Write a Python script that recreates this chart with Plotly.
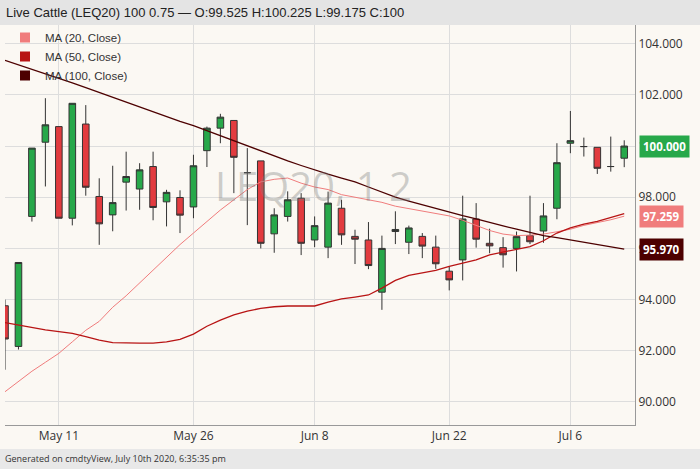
import plotly.graph_objects as go

# trading days May 5 .. Jul 10 2020 (index positions)
days = ["May 5", "May 6", "May 7", "May 8", "May 11", "May 12", "May 13", "May 14", "May 15",
        "May 18", "May 19", "May 20", "May 21", "May 22", "May 26", "May 27", "May 28", "May 29",
        "Jun 1", "Jun 2", "Jun 3", "Jun 4", "Jun 5", "Jun 8", "Jun 9", "Jun 10", "Jun 11", "Jun 12",
        "Jun 15", "Jun 16", "Jun 17", "Jun 18", "Jun 19", "Jun 22", "Jun 23", "Jun 24", "Jun 25",
        "Jun 26", "Jun 29", "Jun 30", "Jul 1", "Jul 2", "Jul 6", "Jul 7", "Jul 8", "Jul 9", "Jul 10"]

opens = [93.76, 92.17, 97.25, 100.15, 100.76, 97.18, 100.86, 98.03, 97.31, 98.59, 98.32, 99.2,
         97.82, 97.99, 97.62, 99.82, 100.7, 101.0, 98.96, 99.42, 96.57, 97.25, 97.96, 96.33, 96.05,
         97.57, 96.47, 96.33, 94.29, 96.66, 96.24, 96.47, 96.05, 95.11, 95.55, 97.15, 96.2, 96.03,
         96.0, 96.5, 96.68, 97.57, 100.11, 99.98, 99.95, 99.2, 99.525]
highs = [94.0, 95.45, 99.92, 101.87, 100.76, 101.67, 101.6, 98.74, 99.23, 99.78, 99.33, 99.78,
         98.29, 98.27, 99.66, 100.76, 101.26, 101.0, 99.92, 99.42, 97.57, 98.23, 98.16, 97.25, 98.22,
         97.9, 96.73, 97.03, 96.5, 97.45, 96.89, 96.6, 96.5, 95.3, 98.06, 97.77, 96.77, 96.44,
         96.66, 98.06, 97.77, 100.11, 101.37, 100.33, 99.95, 100.37, 100.225]
lows = [91.26, 92.05, 97.05, 98.42, 97.18, 96.9, 98.06, 96.14, 96.67, 97.48, 97.51, 97.1,
        96.86, 96.6, 97.18, 99.18, 100.11, 98.16, 96.91, 96.0, 95.83, 97.05, 95.74, 96.05, 95.62,
        96.14, 95.39, 95.19, 93.6, 96.17, 95.78, 95.62, 95.2, 94.36, 94.75, 96.03, 95.81, 95.25,
        95.1, 96.17, 96.22, 97.14, 99.72, 99.59, 98.91, 99.0, 99.175]
closes = [92.46, 95.45, 99.92, 100.83, 97.18, 101.67, 98.39, 96.96, 97.79, 98.81, 99.07, 97.6,
          98.19, 97.3, 99.23, 100.7, 101.13, 99.56, 98.96, 96.2, 97.31, 97.9, 96.2, 96.89, 97.77,
          96.53, 96.36, 95.33, 96.0, 96.74, 96.8, 96.09, 95.4, 94.77, 97.15, 96.36, 96.1, 95.75,
          96.46, 96.26, 97.27, 99.35, 100.21, 99.98, 99.13, 99.2, 100.0]

ma20 = [90.4, 90.8, 91.2, 91.55, 91.9, 92.35, 92.8, 93.15, 93.7, 94.15, 94.65, 95.15, 95.67, 96.15,
        96.6, 97.05, 97.5, 97.9, 98.3, 98.6, 98.7, 98.75, 98.55, 98.4, 98.3, 98.1, 98.0, 97.9, 97.8,
        97.65, 97.55, 97.45, 97.35, 97.27, 97.1, 96.9, 96.7, 96.56, 96.5, 96.52, 96.56, 96.65, 96.75,
        96.9, 97.0, 97.12, 97.259]
ma50 = [93.1, 93.0, 92.9, 92.82, 92.75, 92.68, 92.55, 92.42, 92.32, 92.3, 92.3, 92.3, 92.35, 92.45,
        92.65, 92.96, 93.2, 93.4, 93.55, 93.66, 93.72, 93.75, 93.75, 93.75, 93.9, 94.03, 94.1, 94.18,
        94.45, 94.75, 94.95, 95.05, 95.14, 95.3, 95.42, 95.55, 95.75, 95.85, 95.95, 96.07, 96.3, 96.6,
        96.8, 96.95, 97.06, 97.2, 97.36]
ma100 = [103.35, 103.18, 103.0, 102.83, 102.66, 102.47, 102.28, 102.09, 101.9, 101.72, 101.53,
         101.34, 101.15, 100.96, 100.8, 100.6, 100.4, 100.2, 100.0, 99.8, 99.6, 99.42, 99.24, 99.06,
         98.9, 98.75, 98.6, 98.4, 98.2, 98.0, 97.85, 97.7, 97.55, 97.42, 97.28, 97.15, 97.0, 96.88,
         96.75, 96.62, 96.5, 96.42, 96.33, 96.24, 96.15, 96.07, 95.97]

tick_days = ["May 11", "May 26", "Jun 8", "Jun 22", "Jul 6"]
idx = list(range(len(days)))
tick_idx = [days.index(d) for d in tick_days]

c20, c50, c100 = "#f07c7c", "#b81414", "#4d0000"
ma_list = [("MA (20, Close)", ma20, c20, 1), ("MA (50, Close)", ma50, c50, 1.3),
           ("MA (100, Close)", ma100, c100, 1.3)]

fig = go.Figure()
for name, vals, col, w in ma_list:
    fig.add_trace(go.Scatter(x=idx, y=vals, mode="lines", showlegend=False,
                             line=dict(color=col, width=w)))
# legend swatches (squares)
for name, vals, col, w in ma_list:
    fig.add_trace(go.Scatter(x=[None], y=[None], mode="markers", name=name,
                             marker=dict(symbol="square", size=10, color=col)))
fig.add_trace(go.Candlestick(
    x=idx, open=opens, high=highs, low=lows, close=closes, showlegend=False,
    whiskerwidth=0,
    increasing=dict(fillcolor="#27a84a", line=dict(color="#333333", width=1)),
    decreasing=dict(fillcolor="#e23b3f", line=dict(color="#333333", width=1)),
))

# watermark
fig.add_annotation(text="LEQ20, 1 2", x=0.49, y=0.6, xref="paper", yref="paper",
                   showarrow=False, font=dict(size=40, color="rgba(120,120,120,0.35)",
                                              family="Open Sans"))

# last value tags
for val, col in [(closes[-1], "#27a84a"), (ma20[-1], c20), (ma100[-1], c100)]:
    fig.add_annotation(text=f"<b>{val:.3f}</b>", x=1, y=val, xref="paper", yref="y",
                       xanchor="left", xshift=4, showarrow=False, bgcolor=col,
                       font=dict(size=11.5, color="white", family="Open Sans"), borderpad=3)

# header and footer bars
fig.add_shape(type="rect", xref="paper", yref="paper", x0=-0.02, x1=1.2, y0=1.0, y1=1.07,
              fillcolor="#e4e4e4", line_width=0, layer="below")
fig.add_shape(type="rect", xref="paper", yref="paper", x0=-0.02, x1=1.2, y0=-0.11, y1=-0.06,
              fillcolor="#e8e8e8", line_width=0)
fig.add_annotation(text="Live Cattle (LEQ20) 100 0.75 — O:99.525 H:100.225 L:99.175 C:100",
                   x=0, y=1.0, xref="paper", yref="paper", xanchor="left", yanchor="bottom",
                   xshift=-1, yshift=3, showarrow=False,
                   font=dict(size=13, color="#222", family="Liberation Sans"))
fig.add_annotation(text="Generated on cmdtyView, July 10th 2020, 6:35:35 pm",
                   x=0, y=-0.083, xref="paper", yref="paper", xanchor="left", yanchor="middle",
                   xshift=-2, showarrow=False, font=dict(size=9, color="#333", family="Open Sans"))

fig.update_layout(
    width=700, height=469,
    margin=dict(l=5, r=65, t=25, b=44, autoexpand=False),
    paper_bgcolor="#fbf8f3", plot_bgcolor="#fbf8f3",
    showlegend=True,
    legend=dict(x=0.0, y=1.005, xanchor="left", yanchor="top", bgcolor="rgba(0,0,0,0)",
                font=dict(size=11.5, color="#333", family="Liberation Sans"),
                tracegroupgap=0, itemwidth=30),
    xaxis=dict(range=[0, 46.8], tickvals=tick_idx, ticktext=tick_days, showgrid=True,
               gridcolor="#dddddd", rangeslider=dict(visible=False), zeroline=False,
               showline=True, linecolor="#999", ticks="", tickfont=dict(size=12, color="#333",
                                                                         family="Open Sans")),
    yaxis=dict(range=[89.1, 104.73], side="right", dtick=2, tickformat=".3f",
               gridcolor="#dddddd", zeroline=False, showline=True, linecolor="#999",
               tickfont=dict(size=12, color="#333", family="Open Sans")),
)

fig.write_html("out.html", config={"displayModeBar": False},
               post_script="document.body.style.margin='0';")
